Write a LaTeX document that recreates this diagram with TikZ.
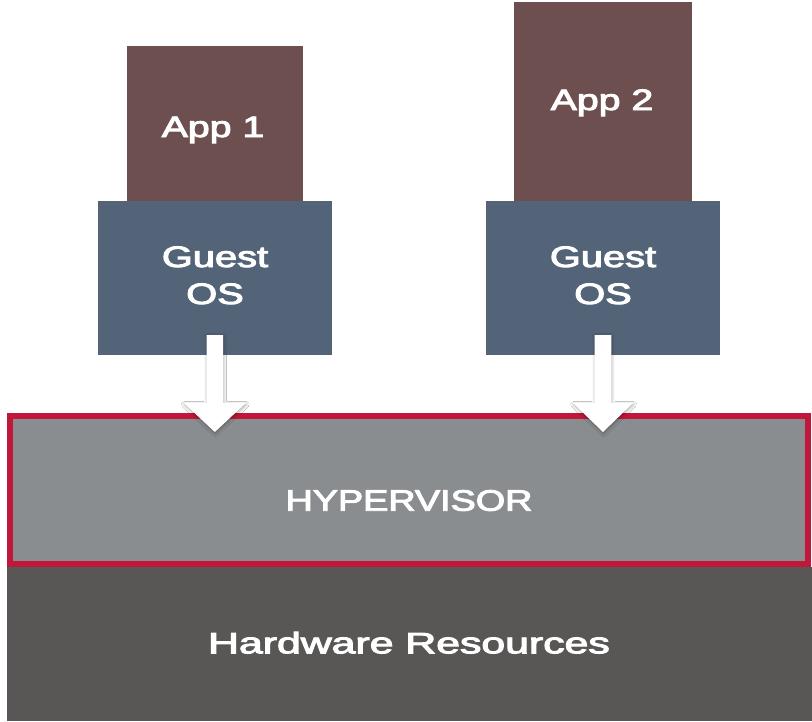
\documentclass[tikz,border=0pt]{standalone}
\usepackage{fontspec}
\setmainfont{Liberation Sans}
\newfontfamily\lblfont{Liberation Sans}[FakeBold=3]
\usepackage{graphicx}
\usetikzlibrary{calc,shadows.blur}
\definecolor{appc}{HTML}{6D4F4F}
\definecolor{osc}{HTML}{536478}
\definecolor{hypc}{HTML}{8A8D90}
\definecolor{redc}{HTML}{C0173A}
\definecolor{hwc}{HTML}{595755}
\begin{document}
\begin{tikzpicture}[x=1pt,y=-1pt,
  box/.style={draw=none, inner sep=0pt, outer sep=0pt},
  lbl/.style={text=white, font=\lblfont\fontsize{29.5}{37}\selectfont, anchor=base, inner sep=0pt},
  bigarrow/.style={fill=white, draw=none,
    blur shadow={shadow xshift=0.5pt, shadow yshift=-1.5pt, shadow blur radius=3pt, shadow opacity=35}}]
\useasboundingbox (0,0) rectangle (812,721);
\fill[white] (0,0) rectangle (812,721);
% layers
\node[box, fill=hwc, minimum width=805pt, minimum height=154.3pt] (hw) at (409.1,643.85) {};
\node[box, fill=hypc, draw=redc, line width=6pt, minimum width=798.3pt, minimum height=148pt] (hyp) at (408.85,489.7) {};
% apps
\node[box, fill=appc, minimum width=176.6pt, minimum height=155pt] (app1) at (215,123.5) {};
\node[box, fill=appc, minimum width=177.4pt, minimum height=199.3pt] (app2) at (603,101.35) {};
% guest OS
\node[box, fill=osc, minimum width=234.3pt, minimum height=154pt] (g1) at (214.85,278) {};
\node[box, fill=osc, minimum width=234pt, minimum height=154pt] (g2) at (603,278) {};
% labels
\node[lbl] (app1t) at (213,137) {\scalebox{1.33}[1]{App 1}};
\node[lbl] (app2t) at (602,110) {\scalebox{1.33}[1]{App 2}};
\node[lbl] (g1a) at (215,267) {\scalebox{1.35}[1]{Guest}};
\node[lbl] (g1b) at (215,304) {\scalebox{1.35}[1]{OS}};
\node[lbl] (g2a) at (603,267) {\scalebox{1.35}[1]{Guest}};
\node[lbl] (g2b) at (603,304) {\scalebox{1.35}[1]{OS}};
\node[lbl] (hypt) at (409,510.7) {\scalebox{1.28}[1]{HYPERVISOR}};
\node[lbl] (hwt) at (409,653.3) {\scalebox{1.45}[1]{Hardware Resources}};
% arrows
\coordinate (a1s) at ($(g1.south)+(0,-20)$);
\coordinate (a1t) at ($(g1.south |- hyp.north)+(0,16.3)$);
\coordinate (a2s) at ($(g2.south)+(0,-20)$);
\coordinate (a2t) at ($(g2.south |- hyp.north)+(0,16.3)$);
\path[bigarrow] ($(a1s)+(-8.3,0)$) -- ($(a1t)+(-8.3,-29)$) -- ($(a1t)+(-31,-29)$) -- (a1t)
  -- ($(a1t)+(31,-29)$) -- ($(a1t)+(8.3,-29)$) -- ($(a1s)+(8.3,0)$) -- cycle;
\path[bigarrow] ($(a2s)+(-8.3,0)$) -- ($(a2t)+(-8.3,-29)$) -- ($(a2t)+(-30,-29)$) -- (a2t)
  -- ($(a2t)+(30,-29)$) -- ($(a2t)+(8.3,-29)$) -- ($(a2s)+(8.3,0)$) -- cycle;
\end{tikzpicture}
\end{document}
